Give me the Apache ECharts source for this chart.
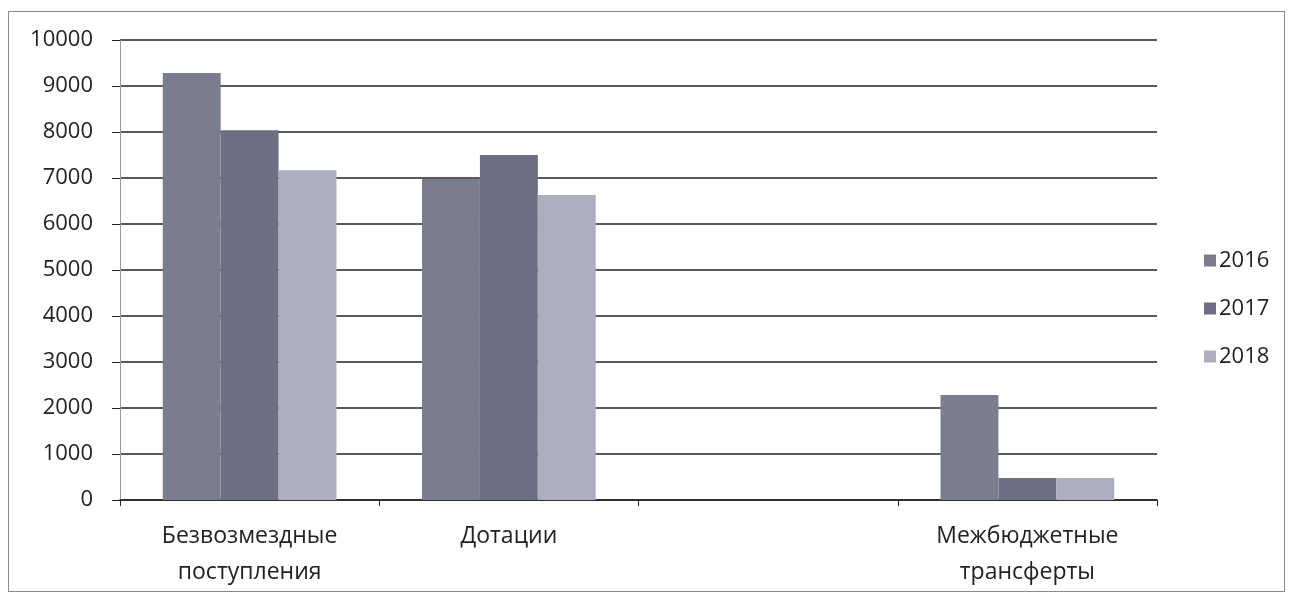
<!DOCTYPE html>
<html>
<head>
<meta charset="utf-8">
<script src="https://cdn.jsdelivr.net/npm/echarts@6/dist/echarts.min.js"></script>
<style>
  html, body { margin: 0; padding: 0; background: #fff; }
  #frame {
    position: absolute; left: 8px; top: 11px; width: 1277px; height: 581px;
    border: 1px solid #8a8a8a; box-sizing: border-box;
  }
  #chart { position: absolute; left: 0; top: 0; width: 1293px; height: 595px; }
</style>
</head>
<body>
<div id="frame"></div>
<div id="chart"></div>
<script>
// категории (третья пустая, как в оригинале)
const categories = ['Безвозмездные\nпоступления', 'Дотации', '', 'Межбюджетные\nтрансферты']
const years = ['2016', '2017', '2018']
const data2016 = [9280, 6980, null, 2280]
const data2017 = [8040, 7500, null, 480]
const data2018 = [7170, 6630, null, 480]
const yTicks = { min: 0, max: 10000, interval: 1000 }

const colors = ['#7a7d8e', '#6d6f82', '#acaebd']
const font = '"Open Sans", "Noto Sans", sans-serif'

const chart = echarts.init(document.getElementById('chart'))
chart.setOption({
  animation: false,
  color: colors,
  legend: {
    orient: 'vertical',
    left: 1199,
    top: 243,
    itemWidth: 12,
    itemHeight: 12,
    itemGap: 23,
    icon: 'rect',
    textStyle: { fontFamily: font, fontSize: 22, color: '#222', lineHeight: 25, padding: [0, 0, 0, -2] },
    data: years
  },
  grid: { left: 120, right: 136, top: 40, bottom: 95, containLabel: false },
  xAxis: {
    type: 'category',
    data: categories,
    axisLine: { lineStyle: { color: '#222', width: 1.5 } },
    axisTick: { show: true, length: 6, lineStyle: { color: '#222' } },
    axisLabel: {
      interval: 0,
      margin: 18,
      fontFamily: font,
      fontSize: 23,
      lineHeight: 36,
      color: '#222'
    }
  },
  yAxis: {
    type: 'value',
    min: yTicks.min,
    max: yTicks.max,
    interval: yTicks.interval,
    axisLine: { show: true, lineStyle: { color: '#999', width: 1 } },
    axisTick: { show: true, length: 8, lineStyle: { color: '#222' } },
    axisLabel: {
      fontFamily: font, fontSize: 22, color: '#222', margin: 27,
      formatter: v => String(v)
    },
    splitLine: { lineStyle: { color: '#222', width: 1.5 } }
  },
  series: [
    { name: '2016', type: 'bar', data: data2016, barGap: '0%', barCategoryGap: '33%' },
    { name: '2017', type: 'bar', data: data2017, barGap: '0%', barCategoryGap: '33%' },
    { name: '2018', type: 'bar', data: data2018, barGap: '0%', barCategoryGap: '33%' }
  ]
})
</script>
</body>
</html>
